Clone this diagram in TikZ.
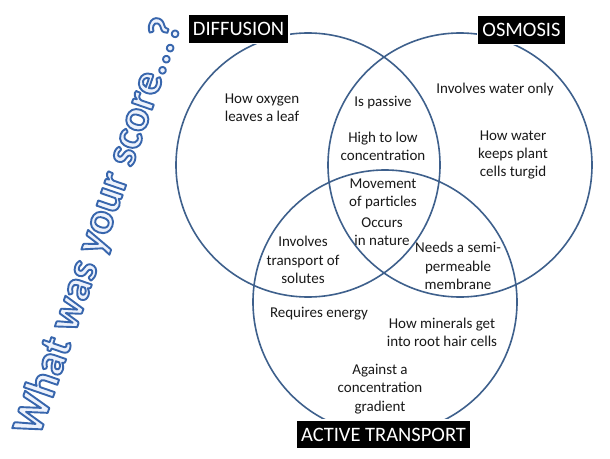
\documentclass[tikz,border=0pt]{standalone}
\usepackage{fontspec}
\setmainfont{Carlito}
\usetikzlibrary{shadows}
\definecolor{circ}{RGB}{62,96,140}
\definecolor{txt}{RGB}{25,25,25}
\newcommand{\outlinetext}[1]{\special{pdf:literal direct q 2 Tr 1.9 w 1 j 0.22 0.40 0.68 RG 0.93 0.95 0.99 rg}#1\special{pdf:literal direct Q}}
\tikzset{
  venn/.style={draw=circ, line width=1.6pt},
  lbl/.style={text=txt, align=center, font=\fontsize{15}{18.3}\selectfont, inner sep=0pt},
  title/.style={fill=black, text=white, draw=white, line width=1.5pt,
    font=\fontsize{20.5}{24}\selectfont, inner xsep=5pt, inner ysep=4pt,
    minimum height=29pt,
    drop shadow={opacity=0.35, shadow xshift=0.8pt, shadow yshift=-0.8pt}},
}
\begin{document}
\begin{tikzpicture}[x=1pt,y=-1pt]
\useasboundingbox[fill=white] (0,0) rectangle (610,458);
% circles
\draw[venn] (308,165) circle (132);
\draw[venn] (460,165) circle (132);
\draw[venn] (385,302) circle (132);
% titles
\node[title] (dif) at (238.5,29) {DIFFUSION};
\node[title] (osm) at (521.5,30) {OSMOSIS};
\node[title] (act) at (383.5,434.5) {ACTIVE TRANSPORT};
% region texts
\node[lbl] (t1) at (262,108) {How oxygen\\leaves a leaf};
\node[lbl] (t2) at (383,103) {Is passive};
\node[lbl] (t3) at (383,146) {High to low\\concentration};
\node[lbl] (t4) at (495,89) {Involves water only};
\node[lbl] (t5) at (513,155) {How water\\keeps plant\\cells turgid};
\node[lbl] (t6) at (383,194) {Movement\\of particles};
\node[lbl] (t7) at (382,232) {Occurs\\in nature};
\node[lbl] (t8) at (303,260) {Involves\\transport of\\solutes};
\node[lbl] (t9) at (458,266) {Needs a semi-\\permeable\\membrane};
\node[lbl] (t10) at (319,314) {Requires energy};
\node[lbl] (t11) at (442,332) {How minerals get\\into root hair cells};
\node[lbl] (t12) at (380,389) {Against a\\concentration\\gradient};
% side text
\node[rotate=71, font=\bfseries\fontsize{44}{50}\selectfont, inner sep=0pt] (side) at (99,227)
  {\outlinetext{What was your score...?}};
\end{tikzpicture}
\end{document}
